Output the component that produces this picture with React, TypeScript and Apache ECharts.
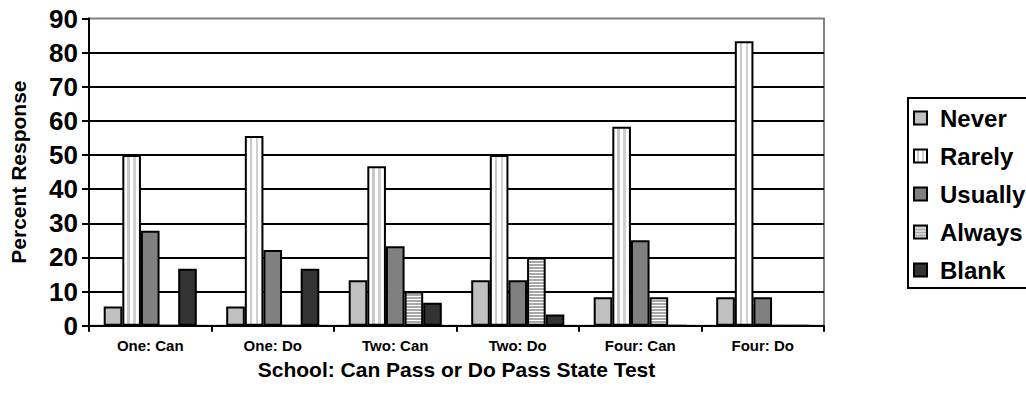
import React, { useEffect, useRef } from "react";
import * as echarts from "echarts";

const categories = ["One: Can", "One: Do", "Two: Can", "Two: Do", "Four: Can", "Four: Do"];
const seriesNames = ["Never", "Rarely", "Usually", "Always", "Blank"];
const never = [5.6, 5.6, 13.3, 13.3, 8.3, 8.3];
const rarely = [50, 55.6, 46.7, 50, 58.3, 83.3];
const usually = [27.8, 22.2, 23.3, 13.3, 25, 8.3];
const always = [0, 0, 10, 20, 8.3, 0];
const blank = [16.7, 16.7, 6.7, 3.3, 0, 0];
const yTicks = [0, 10, 20, 30, 40, 50, 60, 70, 80, 90];

const FONT = "'Liberation Sans', Arial, Helvetica, sans-serif";

function makeStripeCanvas() {
  const c = document.createElement("canvas");
  c.width = 4;
  c.height = 3;
  const ctx = c.getContext("2d");
  if (ctx) {
    ctx.fillStyle = "#ffffff";
    ctx.fillRect(0, 0, 4, 3);
    ctx.fillStyle = "#a8a8a8";
    ctx.fillRect(0, 0, 4, 2);
  }
  return c;
}

export default function App() {
  const ref = useRef<HTMLDivElement>(null);

  useEffect(() => {
    if (!ref.current) return;
    const chart = echarts.init(ref.current, null, { renderer: "svg" });

    const rarelyFill = {
      type: "linear",
      x: 0,
      y: 0,
      x2: 1,
      y2: 0,
      colorStops: [
        { offset: 0, color: "#ffffff" },
        { offset: 0.24, color: "#ffffff" },
        { offset: 0.24, color: "#c8c8c8" },
        { offset: 0.4, color: "#c8c8c8" },
        { offset: 0.4, color: "#ffffff" },
        { offset: 0.6, color: "#ffffff" },
        { offset: 0.6, color: "#d0d0d0" },
        { offset: 0.76, color: "#d0d0d0" },
        { offset: 0.76, color: "#ffffff" },
        { offset: 1, color: "#ffffff" },
      ],
    };

    const stripeCanvas = makeStripeCanvas();
    const alwaysFill = {
      image: stripeCanvas,
      repeat: "repeat",
      imageWidth: 4,
      imageHeight: 3,
    };

    const styles: any[] = [
      { color: "#c0c0c0" },
      { color: rarelyFill },
      { color: "#808080" },
      { color: alwaysFill },
      { color: "#333333" },
    ];
    const values = [never, rarely, usually, always, blank];

    const option: any = {
      animation: false,
      backgroundColor: "#ffffff",
      textStyle: { fontFamily: FONT },
      grid: {
        left: 89,
        right: 202,
        top: 18.5,
        bottom: 67.3,
        show: true,
        borderColor: "#808080",
        borderWidth: 2,
        backgroundColor: "transparent",
      },
      graphic: [
        {
          type: "polyline",
          shape: {
            points: [
              [1100, 98],
              [908, 98],
              [908, 288],
              [1100, 288],
            ],
          },
          style: { fill: null, stroke: "#000000", lineWidth: 2 },
          z: 10,
        },
      ],
      legend: {
        orient: "vertical",
        left: 908,
        top: 98,
        padding: [8, 0, 7, 5],
        itemWidth: 13,
        itemHeight: 13,
        itemGap: 14,
        icon: "rect",
        data: seriesNames,
        textStyle: {
          fontFamily: FONT,
          fontSize: 24,
          fontWeight: "bold",
          color: "#000000",
          padding: [0, 0, 0, 8],
        },
      },
      xAxis: {
        type: "category",
        data: categories,
        name: "School: Can Pass or Do Pass State Test",
        nameLocation: "middle",
        nameGap: 33,
        nameTextStyle: { fontFamily: FONT, fontSize: 21, fontWeight: "bold", color: "#000" },
        axisLine: { lineStyle: { color: "#000", width: 2 } },
        axisTick: { show: true, length: 6, lineStyle: { color: "#000", width: 2 } },
        axisLabel: { fontFamily: FONT, fontSize: 15, fontWeight: "bold", color: "#000", margin: 12, interval: 0 },
        splitLine: { show: false },
      },
      yAxis: {
        type: "value",
        min: 0,
        max: 90,
        interval: 10,
        name: "Percent Response",
        nameLocation: "middle",
        nameGap: 60,
        nameTextStyle: { fontFamily: FONT, fontSize: 21, fontWeight: "bold", color: "#000" },
        axisLine: { show: true, lineStyle: { color: "#000", width: 2 } },
        axisTick: { show: true, length: 7, lineStyle: { color: "#000", width: 2 } },
        axisLabel: {
          fontFamily: FONT,
          fontSize: 26,
          fontWeight: "bold",
          color: "#000",
          margin: 11,
          formatter: (v: number) => (yTicks.includes(v) ? String(v) : ""),
        },
        splitLine: { show: true, showMaxLine: false, lineStyle: { color: "#000", width: 2 } },
      },
      series: seriesNames.map((name, i) => ({
        name,
        type: "bar",
        data: values[i],
        barGap: "0%",
        barCategoryGap: "24%",
        itemStyle: { ...styles[i], borderColor: "#000", borderWidth: 2 },
      })),
    };

    chart.setOption(option);
    return () => chart.dispose();
  }, []);

  return (
    <div
      ref={ref}
      style={{ position: "fixed", left: 0, top: 0, width: 1026, height: 393, background: "#fff" }}
    />
  );
}
